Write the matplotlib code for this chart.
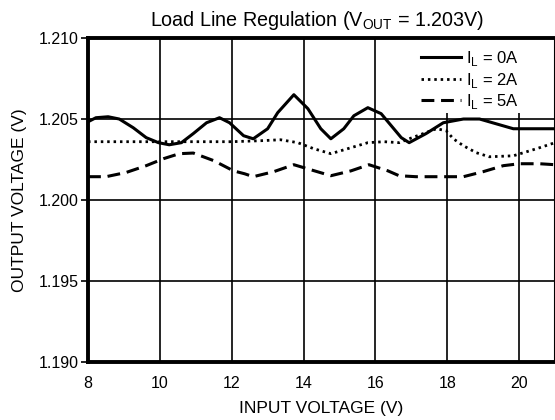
import matplotlib.pyplot as plt
from matplotlib.patches import Rectangle
from matplotlib.ticker import FormatStrFormatter

plt.rcParams['font.family'] = ['Liberation Sans', 'DejaVu Sans']

# Data (input voltage V, output voltage V)
vin_0a = [8.0, 8.22, 8.56, 8.87, 9.26, 9.62, 9.96, 10.26, 10.6, 10.93, 11.3, 11.66, 11.94, 12.33,
          12.6, 13.0, 13.28, 13.73, 14.12, 14.48, 14.76, 15.12, 15.4, 15.79, 16.16, 16.44, 16.72,
          16.94, 17.41, 17.89, 18.45, 18.9, 19.37, 19.84, 20.49, 21.0]
vout_0a = [1.20483, 1.20508, 1.20514, 1.2050, 1.20446, 1.20385, 1.20354, 1.20341, 1.20354, 1.2041,
           1.20477, 1.20508, 1.20477, 1.20397, 1.20378, 1.2044, 1.20539, 1.2065, 1.20564, 1.2044,
           1.20378, 1.2044, 1.2052, 1.2057, 1.20533, 1.20459, 1.20385, 1.20354, 1.2041, 1.20477,
           1.2050, 1.2050, 1.2047, 1.2044, 1.2044, 1.2044]

vin_2a = [8.0, 9.0, 10.0, 11.0, 12.0, 12.8, 13.36, 13.84, 14.28, 14.76, 15.23, 15.79, 16.24, 16.66,
          16.94, 17.33, 17.7, 17.97, 18.17, 18.45, 18.81, 19.17, 19.84, 20.49, 21.0]
vout_2a = [1.2036, 1.2036, 1.2036, 1.2036, 1.2036, 1.20366, 1.20372, 1.20354, 1.20317, 1.20286,
           1.20317, 1.20354, 1.2036, 1.20354, 1.20378, 1.2041, 1.2044, 1.20428, 1.20378, 1.20335,
           1.20292, 1.20267, 1.20273, 1.20317, 1.20354]

vin_5a = [8.0, 8.5, 9.06, 9.62, 10.1, 10.54, 10.93, 11.5, 12.05, 12.36, 12.6, 13.17, 13.73, 14.2,
          14.76, 15.32, 15.82, 16.35, 16.66, 17.13, 18.45, 19.0, 19.56, 20.01, 20.57, 21.0]
vout_5a = [1.20144, 1.20144, 1.2017, 1.20212, 1.20255, 1.20286, 1.2029, 1.20243, 1.2018, 1.20162,
           1.20144, 1.20175, 1.20218, 1.20187, 1.2015, 1.2018, 1.20218, 1.2018, 1.2015, 1.20144,
           1.20144, 1.20175, 1.20212, 1.20224, 1.20224, 1.20218]

x_ticks = [8, 10, 12, 14, 16, 18, 20]
y_ticks = [1.190, 1.195, 1.200, 1.205, 1.210]

fig = plt.figure(figsize=(5.55, 4.2), dpi=100)
ax = fig.add_axes([0.1586, 0.138, 0.8414, 0.7715])
ax.set_axisbelow(True)

ax.plot(vin_0a, vout_0a, color='black', lw=2.2, ls='-', label='I$_\\mathregular{L}$ = 0A', zorder=3)
ax.plot(vin_2a, vout_2a, color='black', lw=2.0, ls=(0, (0.9, 1.4)), label='I$_\\mathregular{L}$ = 2A', zorder=3)
ax.plot(vin_5a, vout_5a, color='black', lw=2.2, ls=(0, (4.2, 2.2)), label='I$_\\mathregular{L}$ = 5A', zorder=3)

ax.set_xlim(8, 21)
ax.set_ylim(1.190, 1.210)
ax.set_xticks(x_ticks)
ax.set_yticks(y_ticks)
ax.yaxis.set_major_formatter(FormatStrFormatter('%.3f'))
ax.grid(True, color='black', lw=1.2)
ax.tick_params(axis='y', direction='out', length=5, width=1.2, labelsize=11.5, pad=2)
ax.tick_params(axis='x', length=0, labelsize=11.5, pad=10)
for side in ['left', 'bottom', 'top']:
    ax.spines[side].set_linewidth(2.8)
ax.spines['right'].set_linewidth(1.5)

ax.set_xlabel('INPUT VOLTAGE (V)', fontsize=12.5, labelpad=7)
ax.set_ylabel('OUTPUT VOLTAGE (V)', fontsize=12.5, labelpad=8)
ax.set_title('Load Line Regulation (V$_\\mathregular{OUT}$ = 1.203V)', fontsize=14.2, pad=9, x=0.49)

# white box behind the legend hides the grid there
ax.add_patch(Rectangle((0.70, 0.768), 0.30, 0.232, transform=ax.transAxes,
                       facecolor='white', edgecolor='none', zorder=1))

leg = ax.legend(loc='upper left', bbox_to_anchor=(0.714, 0.966), frameon=False, fontsize=12,
                handlelength=2.4, handletextpad=0.3, labelspacing=0.15,
                borderpad=0, borderaxespad=0)

fig.savefig('out.png', dpi=100)
